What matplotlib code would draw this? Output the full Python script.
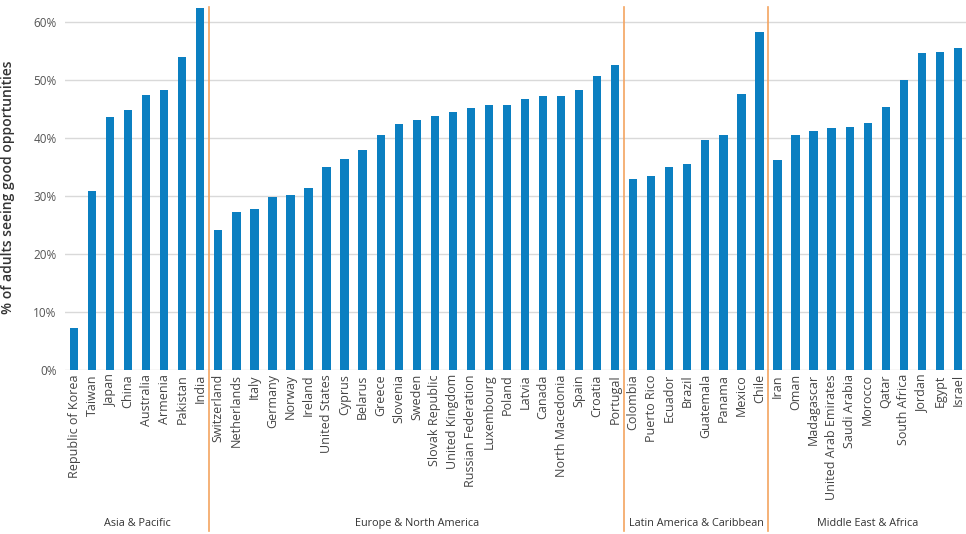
import numpy as np
import matplotlib
matplotlib.use("Agg")
import matplotlib.pyplot as plt

plt.rcParams["font.family"] = ["Open Sans", "DejaVu Sans"]

# Data
asia = ["Republic of Korea", "Taiwan", "Japan", "China", "Australia", "Armenia", "Pakistan", "India"]
asia_vals = [7.3, 30.9, 43.7, 44.9, 47.5, 48.4, 54.0, 62.5]

europe = ["Switzerland", "Netherlands", "Italy", "Germany", "Norway", "Ireland", "United States",
          "Cyprus", "Belarus", "Greece", "Slovenia", "Sweden", "Slovak Republic", "United Kingdom",
          "Russian Federation", "Luxembourg", "Poland", "Latvia", "Canada", "North Macedonia",
          "Spain", "Croatia", "Portugal"]
europe_vals = [24.2, 27.3, 27.8, 29.8, 30.2, 31.4, 35.1, 36.5, 38.0, 40.6, 42.4, 43.2, 43.9,
               44.6, 45.3, 45.8, 45.8, 46.8, 47.3, 47.3, 48.3, 50.7, 52.7]

latam = ["Colombia", "Puerto Rico", "Ecuador", "Brazil", "Guatemala", "Panama", "Mexico", "Chile"]
latam_vals = [32.9, 33.4, 35.1, 35.6, 39.7, 40.6, 47.7, 58.3]

mea = ["Iran", "Oman", "Madagascar", "United Arab Emirates", "Saudi Arabia", "Morocco", "Qatar",
       "South Africa", "Jordan", "Egypt", "Israel"]
mea_vals = [36.2, 40.6, 41.2, 41.7, 42.0, 42.6, 45.4, 50.0, 54.7, 54.9, 55.6]

regions = ["Asia & Pacific", "Europe & North America", "Latin America & Caribbean", "Middle East & Africa"]
groups = [asia, europe, latam, mea]
group_vals = [asia_vals, europe_vals, latam_vals, mea_vals]

labels = [c for g in groups for c in g]
values = [v for g in group_vals for v in g]
x = np.arange(len(labels))

fig = plt.figure(figsize=(9.66, 5.34), dpi=100)
ax = fig.add_axes([65 / 966, 1 - 370 / 534, 901 / 966, 365 / 534])

ax.bar(x, values, width=0.46, color="#0b7fc1", zorder=2)

ax.set_xlim(-0.5, len(labels) - 0.55)
ax.set_ylim(0, 63)
ax.set_yticks(np.arange(0, 61, 10))
ax.set_yticklabels([f"{v}%" for v in range(0, 61, 10)], fontsize=8.5, color="#555555")
ax.yaxis.grid(True, color="#d9d9d9", linewidth=1, zorder=0)
ax.set_axisbelow(True)
ax.tick_params(axis="y", length=0, pad=6)
ax.tick_params(axis="x", length=0, pad=3)
ax.set_xticks(x)
ax.set_xticklabels(labels, rotation=90, fontsize=9, color="#444444", va="top", ha="center")
for s in ax.spines.values():
    s.set_visible(False)

ax.set_ylabel("% of adults seeing good opportunities", fontsize=10, color="#333333",
              fontweight="semibold")
ax.yaxis.set_label_coords(-50 / 901, 0.5)

# separators and region labels
start = 0
for i, g in enumerate(groups):
    end = start + len(g)
    if i > 0:
        ax.axvline(start - 0.5, ymin=-0.44, ymax=0.995, color="#f4a460", linewidth=1.2,
                   clip_on=False, zorder=3)
    mid = (start - 0.5 + end - 0.5) / 2
    ax.text(mid, -0.42, regions[i], transform=ax.get_xaxis_transform(), ha="center",
            va="center", fontsize=7.8, color="#333333")
    start = end

fig.savefig("out.png", dpi=100)
